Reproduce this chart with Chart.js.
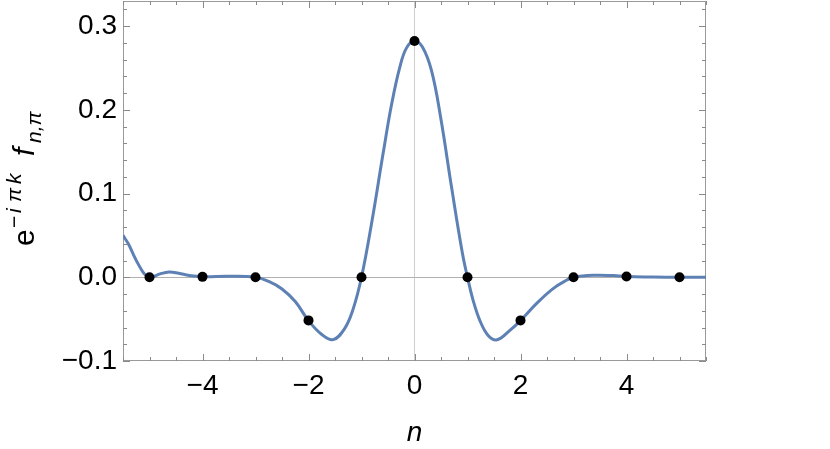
<!DOCTYPE html>
<html><head><meta charset="utf-8">
<script src="https://cdn.jsdelivr.net/npm/chart.js@4"></script>
<style>html,body{margin:0;padding:0;background:#fff;}#wrap{width:830px;height:449px;}</style>
</head><body><div id="wrap"><canvas id="c" width="830" height="449"></canvas></div>
<script>
// Curve samples
const curveN = [-5.5,-5.4,-5.31,-5.215,-5.12,-5.05,-5.0,-4.93,-4.8,-4.63,-4.45,-4.25,-4.0,-3.5,-3.0,-2.75,-2.5,-2.25,-2.0,-1.755,-1.535,-1.315,-1.158,-1.0,-0.811,-0.592,-0.434,-0.277,-0.15,0.0,0.15,0.32,0.496,0.698,0.905,1.0,1.106,1.232,1.389,1.559,1.8,2.0,2.3,2.615,2.868,3.0,3.37,3.75,4.0,4.5,5.0,5.5];
const curveF = [0.050,0.040,0.028,0.0160,0.0060,0.0015,0.0,0.0008,0.0040,0.0063,0.0048,0.0022,0.0008,0.0012,0.0,-0.005,-0.014,-0.029,-0.0518,-0.068,-0.0745,-0.061,-0.038,0.0,0.064,0.148,0.206,0.251,0.274,0.2822,0.275,0.247,0.190,0.108,0.0283,0.0,-0.0275,-0.0514,-0.0694,-0.0746,-0.0634,-0.0518,-0.0315,-0.0135,-0.0036,0.0,0.0024,0.002,0.0008,0.0003,0.0,0.0];
// Dots at integer n
const dotN = [-5,-4,-3,-2,-1,0,1,2,3,4,5];
const dotF = [0.0,0.0005,0.0,-0.0515,0.0,0.2822,0.0,-0.0515,0.0,0.001,0.0];
// Tick labels
const xTicks = [-4,-2,0,2,4];
const yTicks = [-0.1,0.0,0.1,0.2,0.3];
const xMinor = [-5.5,-5,-4.5,-4,-3.5,-3,-2.5,-2,-1.5,-1,-0.5,0,0.5,1,1.5,2,2.5,3,3.5,4,4.5,5,5.5];
const yMinor = [-0.1,-0.08,-0.06,-0.04,-0.02,0,0.02,0.04,0.06,0.08,0.1,0.12,0.14,0.16,0.18,0.2,0.22,0.24,0.26,0.28,0.3,0.32];

const FONT = '"Liberation Sans", Arial, sans-serif';
const fmt = v => (Math.abs(v) < 1e-9 ? (0).toFixed(1) : v.toFixed(1)).replace('-', '\u2212');

const framePlugin = {
  id: 'frame',
  beforeDatasetsDraw(chart) {
    const {ctx, chartArea: a, scales: {x, y}} = chart;
    ctx.save();
    ctx.strokeStyle = '#9a9a9a';
    ctx.lineWidth = 1;
    ctx.strokeRect(a.left + 0.5, a.top + 0.5, a.right - a.left - 1, a.bottom - a.top - 1);
    ctx.strokeStyle = '#8a8a8a';
    ctx.beginPath();
    xMinor.forEach(v => {
      const px = Math.round(x.getPixelForValue(v)) + 0.5;
      const L = xTicks.includes(v) ? 7 : 4;
      ctx.moveTo(px, a.bottom); ctx.lineTo(px, a.bottom - L);
      ctx.moveTo(px, a.top); ctx.lineTo(px, a.top + L);
    });
    yMinor.forEach(v => {
      const py = Math.round(y.getPixelForValue(v)) + 0.5;
      const L = yTicks.some(t => Math.abs(t - v) < 1e-9) ? 7 : 4;
      ctx.moveTo(a.left, py); ctx.lineTo(a.left + L, py);
      ctx.moveTo(a.right, py); ctx.lineTo(a.right - L, py);
    });
    ctx.stroke();
    ctx.restore();
  },
  afterDraw(chart) {
    const {ctx, chartArea: a} = chart;
    ctx.save();
    ctx.fillStyle = '#000';
    // x title
    ctx.font = 'italic 28px ' + FONT;
    ctx.textAlign = 'center';
    ctx.textBaseline = 'alphabetic';
    ctx.fillText('n', (a.left + a.right) / 2, 441);
    // y title (rotated, with super/subscripts)
    ctx.translate(34, 246);
    ctx.rotate(-Math.PI / 2);
    ctx.textAlign = 'left';
    ctx.font = '30px ' + FONT;
    ctx.fillText('e', 0, 0);
    ctx.font = '21px ' + FONT;
    ctx.fillText('\u2212', 18, -13);
    ctx.font = 'italic 21px ' + FONT;
    ctx.fillText('i', 33, -13);
    ctx.fillText('\u03C0', 44, -13);
    ctx.fillText('k', 62, -13);
    ctx.font = 'italic 30px ' + FONT;
    ctx.fillText('f', 90, 0);
    ctx.font = 'italic 21px ' + FONT;
    ctx.fillText('n,\u03C0', 103, 7);
    ctx.restore();
  }
};

new Chart(document.getElementById('c'), {
  type: 'scatter',
  data: {
    datasets: [
      {
        type: 'scatter',
        data: dotN.map((n, i) => ({x: n, y: dotF[i]})),
        backgroundColor: '#000', borderColor: '#000',
        pointRadius: 5, pointHoverRadius: 5, borderWidth: 0, order: 0
      },
      {
        type: 'line',
        data: curveN.map((n, i) => ({x: n, y: curveF[i]})),
        borderColor: '#5E81B5', borderWidth: 3, pointRadius: 0,
        tension: 0.4, fill: false, order: 1
      }
    ]
  },
  options: {
    responsive: false, animation: false,
    layout: {autoPadding: false, padding: {left: 0, right: 124, top: 1, bottom: 0}},
    plugins: {legend: {display: false}, tooltip: {enabled: false}},
    scales: {
      x: {
        type: 'linear', min: -5.5, max: 5.5,
        afterBuildTicks: s => { s.ticks = xTicks.map(v => ({value: v})); },
        afterFit: s => { s.height = 88; s.paddingLeft = 0; s.paddingRight = 0; },
        ticks: {callback: v => String(v).replace('-', '\u2212'), color: '#000', font: {family: FONT, size: 28}, padding: 8, maxRotation: 0},
        grid: {drawTicks: false, color: c => (c.tick && c.tick.value === 0 ? '#cfcfcf' : 'rgba(0,0,0,0)'), lineWidth: 1},
        border: {display: false}
      },
      y: {
        type: 'linear', min: -0.1, max: 0.33,
        afterBuildTicks: s => { s.ticks = yTicks.map(v => ({value: v})); },
        afterFit: s => { s.width = 123; s.paddingTop = 0; s.paddingBottom = 0; },
        ticks: {callback: v => fmt(v), color: '#000', font: {family: FONT, size: 28}, padding: 6},
        grid: {drawTicks: false, color: c => (c.tick && Math.abs(c.tick.value) < 1e-9 ? '#b0b0b0' : 'rgba(0,0,0,0)'), lineWidth: 1},
        border: {display: false}
      }
    }
  },
  plugins: [framePlugin]
});
</script></body></html>
